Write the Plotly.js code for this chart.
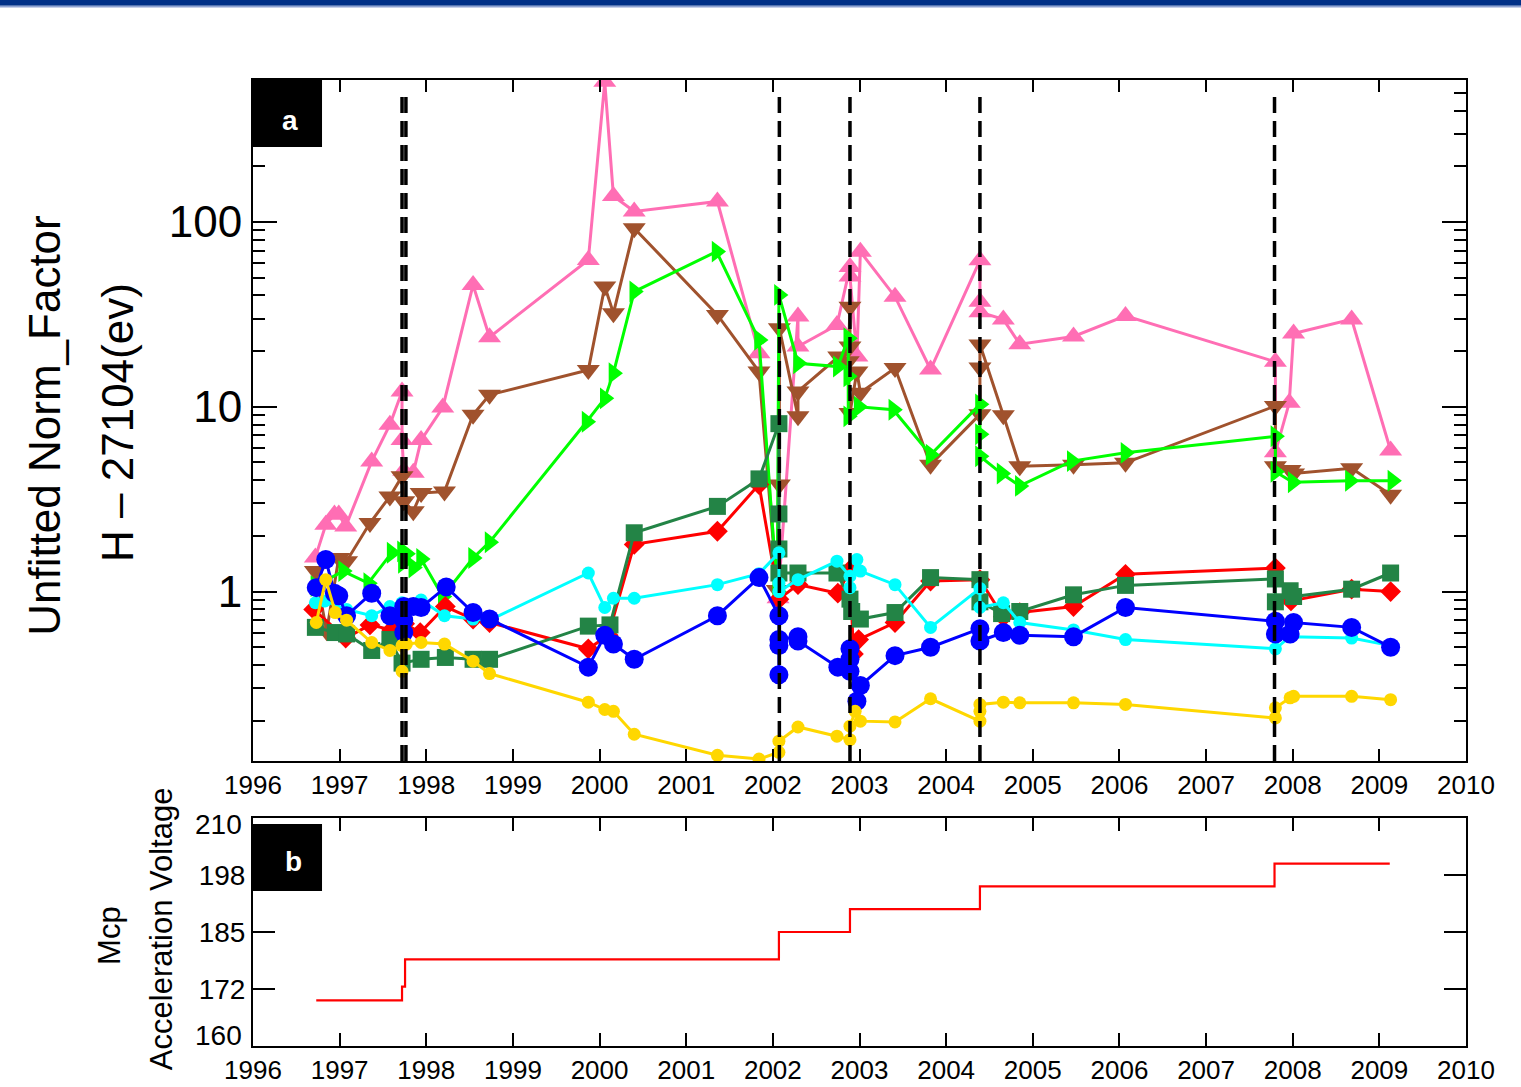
<!DOCTYPE html>
<html>
<head>
<meta charset="utf-8">
<script src="https://cdn.plot.ly/plotly-3.0.1.min.js"></script>
<style>html,body{margin:0;padding:0;background:#fff;}#chart{width:1521px;height:1087px;}</style>
</head>
<body>
<div id="chart"></div>
<script>
// ---------- data (decimal years) ----------
var pinkX = [1996.72,1996.84,1996.94,1996.99,1997.07,1997.37,1997.58,1997.72,1997.72,1997.74,1997.85,1997.94,1998.19,1998.54,1998.73,1999.87,2000.06,2000.16,2000.40,2001.36,2001.84,2002.06,2002.29,2002.29,2002.74,2002.89,2002.89,2002.97,2003.01,2003.41,2003.82,2004.39,2004.39,2004.39,2004.66,2004.85,2005.47,2006.07,2007.80,2007.80,2007.96,2008.01,2008.68,2009.13];
var pinkY = [1.53,2.30,2.61,2.61,2.25,5.06,8.0,12.1,6.6,4.5,4.4,6.6,9.9,45.6,23.8,62.3,573,138,114,129,19.5,0.92,30.8,21.2,27.7,57,50.6,18.7,69,39.4,15.9,62,37,32.5,29.7,21.8,24.0,31.0,17.5,5.68,10.5,24.9,29.7,5.8];

var brownX = [1996.72,1996.85,1996.99,1997.08,1997.35,1997.58,1997.72,1997.74,1997.85,1997.94,1998.21,1998.54,1998.73,1999.87,2000.06,2000.16,2000.40,2001.36,2001.84,2002.05,2002.075,2002.075,2002.29,2002.29,2002.76,2002.89,2002.89,2002.87,2002.89,2002.97,2003.01,2003.41,2003.82,2004.39,2004.39,2004.39,2004.66,2004.85,2005.47,2006.07,2007.80,2007.80,2007.97,2008.01,2008.68,2009.13];
var brownY = [1.29,0.61,1.52,1.46,2.35,3.27,4.2,3.08,2.72,3.41,3.48,9.06,11.6,15.8,44.7,32.1,92.5,31.4,15.5,1.02,3.8,26.6,8.87,12.1,18.7,21.2,34.8,17.6,9.25,15.5,11.9,16.2,4.86,9.1,16.3,21.7,9.0,4.76,4.86,4.97,10.1,4.76,4.55,4.35,4.65,3.34];

var greenX = [1996.72,1997.04,1997.33,1997.60,1997.72,1997.73,1997.77,1997.85,1997.94,1998.19,1998.54,1998.73,1999.85,2000.06,2000.16,2000.40,2001.35,2001.84,2002.05,2002.07,2002.29,2002.75,2002.87,2002.87,2002.87,2002.99,2003.39,2003.82,2004.39,2004.39,2004.39,2004.64,2004.85,2005.45,2006.07,2007.80,2007.80,2008.00,2008.66,2009.15];
var greenY = [1.07,1.29,1.11,1.62,1.65,1.43,1.6,1.35,1.5,0.94,1.52,1.85,8.3,11.1,15.2,42,69.1,23.0,1.0,40.3,17.2,16.5,23.5,14.6,8.87,10.0,9.64,5.5,10.3,7.1,5.4,4.35,3.73,5.08,5.63,6.92,4.45,3.9,3.98,3.98];

var redX = [1996.70,1997.07,1997.35,1997.60,1997.75,1997.93,1998.22,1998.54,1998.73,1999.87,2000.10,2000.40,2001.36,2001.84,2002.07,2002.29,2002.75,2002.89,2002.93,2002.99,2003.41,2003.82,2004.39,2004.66,2004.85,2005.47,2006.07,2007.80,2007.98,2008.68,2009.13];
var redY = [0.80,0.56,0.66,0.62,0.67,0.60,0.83,0.71,0.68,0.49,0.58,1.80,2.12,3.79,0.91,1.09,0.98,1.31,0.46,0.55,0.68,1.14,1.16,0.73,0.77,0.83,1.24,1.34,0.89,1.03,1.0];

var dkgreenX = [1996.72,1996.95,1997.08,1997.37,1997.58,1997.72,1997.94,1998.22,1998.54,1998.73,1999.87,2000.12,2000.40,2001.36,2001.84,2002.07,2002.07,2002.07,2002.07,2002.29,2002.74,2002.89,2002.91,2003.01,2003.41,2003.82,2004.39,2004.39,2004.64,2004.85,2005.47,2006.07,2007.80,2007.80,2007.97,2008.01,2008.68,2009.13];
var dkgreenY = [0.64,0.60,0.59,0.48,0.55,0.41,0.43,0.44,0.43,0.43,0.65,0.66,2.08,2.89,4.07,8.1,2.63,1.70,1.26,1.26,1.26,0.91,0.78,0.71,0.77,1.19,1.16,0.88,0.76,0.78,0.96,1.08,1.17,0.88,1.01,0.94,1.03,1.26];

var cyanX = [1996.72,1996.83,1997.08,1997.37,1997.58,1997.72,1997.94,1998.21,1998.54,1998.73,1999.87,2000.06,2000.16,2000.40,2001.36,2001.84,2002.07,2002.07,2002.07,2002.29,2002.74,2002.89,2002.89,2002.97,2003.01,2003.41,2003.82,2004.39,2004.39,2004.66,2004.85,2005.47,2006.07,2007.80,2007.97,2008.68,2009.13];
var cyanY = [0.87,0.89,0.80,0.74,0.83,0.87,0.90,0.74,0.71,0.70,1.26,0.82,0.92,0.92,1.09,1.25,1.62,1.11,1.0,1.16,1.46,1.21,1.05,1.49,1.29,1.09,0.64,1.04,0.82,0.87,0.68,0.62,0.55,0.49,0.57,0.56,0.51];

var blueX = [1996.73,1996.84,1996.94,1996.99,1997.08,1997.37,1997.58,1997.74,1997.74,1997.74,1997.85,1997.94,1998.23,1998.54,1998.73,1999.87,2000.06,2000.16,2000.40,2001.36,2001.84,2002.07,2002.07,2002.07,2002.07,2002.29,2002.29,2002.75,2002.89,2002.89,2002.89,2002.97,2003.01,2003.41,2003.82,2004.39,2004.39,2004.66,2004.85,2005.47,2006.07,2007.80,2007.80,2007.97,2008.01,2008.68,2009.13];
var blueY = [1.05,1.49,0.98,0.95,0.74,0.98,0.74,0.83,0.70,0.60,0.83,0.82,1.06,0.77,0.71,0.39,0.58,0.52,0.43,0.74,1.19,0.74,0.51,0.355,0.55,0.57,0.54,0.39,0.49,0.37,0.43,0.255,0.31,0.45,0.50,0.63,0.54,0.60,0.58,0.57,0.82,0.69,0.59,0.59,0.68,0.64,0.50];

var yellowX = [1996.73,1996.84,1996.95,1997.08,1997.37,1997.58,1997.72,1997.72,1997.77,1997.94,1998.21,1998.54,1998.73,1999.87,2000.06,2000.16,2000.40,2001.36,2001.84,2002.07,2002.07,2002.29,2002.74,2002.89,2002.89,2002.95,2003.01,2003.41,2003.82,2004.39,2004.39,2004.39,2004.66,2004.85,2005.47,2006.07,2007.80,2007.80,2007.97,2008.01,2008.68,2009.13];
var yellowY = [0.68,1.16,0.77,0.70,0.53,0.48,0.51,0.37,0.52,0.53,0.52,0.42,0.36,0.252,0.23,0.225,0.169,0.13,0.124,0.135,0.155,0.185,0.165,0.158,0.187,0.225,0.199,0.197,0.263,0.199,0.225,0.245,0.252,0.25,0.25,0.245,0.207,0.235,0.266,0.271,0.271,0.26];

// event dates (dashed vertical lines in panel a)
var eventDates = [1997.72, 1997.765, 2002.075, 2002.89, 2004.39, 2007.79];

// panel b: MCP acceleration voltage steps
var mcpX = [1996.73, 1997.72, 1997.755, 2002.07, 2002.89, 2004.39, 2007.79, 2009.12];
var mcpY = [170, 173, 179, 185, 190, 195, 200, 200];

var yearTicks = [1996,1997,1998,1999,2000,2001,2002,2003,2004,2005,2006,2007,2008,2009,2010];
var mcpTickVals = [160, 172.5, 185, 197.5, 210];
var mcpTickText = ['160','172','185','198','210'];
var logMinorTicks = [0.2,0.3,0.4,0.5,0.6,0.7,0.8,0.9,2,3,4,5,6,7,8,9,20,30,40,50,60,70,80,90,200,300,400,500];

// ---------- traces ----------
var FONT = 'Liberation Sans, Arial, Helvetica, sans-serif';
function series(x, y, color, symbol, size, lw) {
  return {
    x: x, y: y, xaxis: 'x', yaxis: 'y', type: 'scatter', mode: 'lines+markers',
    line: {color: color, width: lw || 3},
    marker: {color: color, symbol: symbol, size: size, line: {width: 0}},
    showlegend: false, hoverinfo: 'x+y'
  };
}
var traces = [
  series(pinkX, pinkY, '#FF6EB4', 'triangle-up', 20),
  series(brownX, brownY, '#A0522D', 'triangle-down', 20),
  series(greenX, greenY, '#00FF00', 'triangle-right', 19),
  series(redX, redY, '#FF0000', 'diamond', 16),
  series(dkgreenX, dkgreenY, '#238446', 'square', 17),
  series(cyanX, cyanY, '#00FFFF', 'circle', 13),
  series(blueX, blueY, '#0000FF', 'circle', 19),
  series(yellowX, yellowY, '#FFD700', 'circle', 13),
  {
    x: mcpX, y: mcpY, xaxis: 'x2', yaxis: 'y2', type: 'scatter', mode: 'lines',
    line: {color: '#FF0000', width: 2.2, shape: 'hv'}, showlegend: false
  }
];

// ---------- shapes ----------
var shapes = [];
eventDates.forEach(function (d) {
  shapes.push({type: 'line', xref: 'x', yref: 'y domain', x0: d, x1: d, y0: 0, y1: 0.981,
    line: {color: '#000', width: 3.5, dash: '16px,8px'}});
});
// panel label boxes
shapes.push({type: 'rect', xref: 'paper', yref: 'paper', x0: 0, x1: 0.0569, y0: 0.9306, y1: 1,
  fillcolor: '#000', line: {width: 0}, layer: 'above'});
shapes.push({type: 'rect', xref: 'paper', yref: 'paper', x0: 0, x1: 0.0569, y0: 0.1605, y1: 0.2298,
  fillcolor: '#000', line: {width: 0}, layer: 'above'});
// top banner
shapes.push({type: 'rect', xref: 'paper', yref: 'paper', x0: -0.21, x1: 1.05, y0: 1.0768, y1: 1.1,
  fillcolor: '#003087', line: {width: 0}});
shapes.push({type: 'rect', xref: 'paper', yref: 'paper', x0: -0.21, x1: 1.05, y0: 1.0750, y1: 1.0768,
  fillcolor: '#8EA2D2', line: {width: 0}});

var axisCommon = {
  showgrid: false, zeroline: false, showline: true, linecolor: '#000', linewidth: 2,
  mirror: 'ticks', ticks: 'inside', tickcolor: '#000', tickwidth: 2
};

// panel b tick labels: inner ones on the axis, end labels pulled slightly inward (as in the original)
var mcpAxisText = mcpTickText.map(function (t, i) { return (i === 0 || i === mcpTickText.length - 1) ? '' : t; });

var annotations = [
  {text: 'Unfitted Norm_Factor', xref: 'paper', yref: 'paper', x: -0.1715, y: 0.643,
    xanchor: 'center', yanchor: 'middle', textangle: -90, showarrow: false,
    font: {size: 44, family: FONT, color: '#000'}},
  {text: 'H \u2013 27104(ev)', xref: 'paper', yref: 'paper', x: -0.1113, y: 0.646,
    xanchor: 'center', yanchor: 'middle', textangle: -90, showarrow: false,
    font: {size: 44, family: FONT, color: '#000'}},
  {text: 'Mcp', xref: 'paper', yref: 'paper', x: -0.1179, y: 0.115,
    xanchor: 'center', yanchor: 'middle', textangle: -90, showarrow: false,
    font: {size: 31, family: FONT, color: '#000'}},
  {text: 'Acceleration Voltage', xref: 'paper', yref: 'paper', x: -0.0758, y: 0.121,
    xanchor: 'center', yanchor: 'middle', textangle: -90, showarrow: false,
    font: {size: 31, family: FONT, color: '#000'}},
  {text: '<b>a</b>', xref: 'paper', yref: 'paper', x: 0.0305, y: 0.9576,
    xanchor: 'center', yanchor: 'middle', showarrow: false,
    font: {size: 28, family: FONT, color: '#fff'}},
  {text: '<b>b</b>', xref: 'paper', yref: 'paper', x: 0.033, y: 0.1905,
    xanchor: 'center', yanchor: 'middle', showarrow: false,
    font: {size: 28, family: FONT, color: '#fff'}},
  {text: mcpTickText[0], xref: 'paper', yref: 'y2', x: -0.0075, y: mcpTickVals[0] + 2.2,
    xanchor: 'right', yanchor: 'middle', showarrow: false,
    font: {size: 28, family: FONT, color: '#000'}},
  {text: mcpTickText[mcpTickText.length - 1], xref: 'paper', yref: 'y2', x: -0.0075,
    y: mcpTickVals[mcpTickVals.length - 1] - 1.4,
    xanchor: 'right', yanchor: 'middle', showarrow: false,
    font: {size: 28, family: FONT, color: '#000'}}
];

var layout = {
  width: 1521, height: 1087,
  margin: {l: 253, r: 55, t: 80, b: 41},
  paper_bgcolor: '#fff', plot_bgcolor: '#fff',
  font: {family: FONT, color: '#000'},
  showlegend: false,
  xaxis: Object.assign({}, axisCommon, {
    domain: [0, 1], anchor: 'y', range: [1996, 2010], tickvals: yearTicks,
    ticktext: yearTicks.map(String), ticklen: 12, tickfont: {size: 26, family: FONT}
  }),
  yaxis: Object.assign({}, axisCommon, {
    domain: [0.295, 1], anchor: 'x', type: 'log', range: [-0.917, 2.768],
    tickvals: [1, 10, 100], ticktext: ['1', '10', '100'], ticklen: 24,
    tickfont: {size: 44, family: FONT},
    minor: {tickvals: logMinorTicks, ticks: 'inside', ticklen: 12, tickcolor: '#000', tickwidth: 2}
  }),
  xaxis2: Object.assign({}, axisCommon, {
    domain: [0, 1], anchor: 'y2', range: [1996, 2010], tickvals: yearTicks,
    ticktext: yearTicks.map(String), ticklen: 13, tickfont: {size: 26, family: FONT}
  }),
  yaxis2: Object.assign({}, axisCommon, {
    domain: [0, 0.236], anchor: 'x2', range: [160, 210],
    tickvals: mcpTickVals, ticktext: mcpAxisText, ticklen: 22,
    tickfont: {size: 28, family: FONT}
  }),
  shapes: shapes,
  annotations: annotations
};

Plotly.newPlot('chart', traces, layout, {displayModeBar: false, staticPlot: true});
</script>
</body>
</html>
